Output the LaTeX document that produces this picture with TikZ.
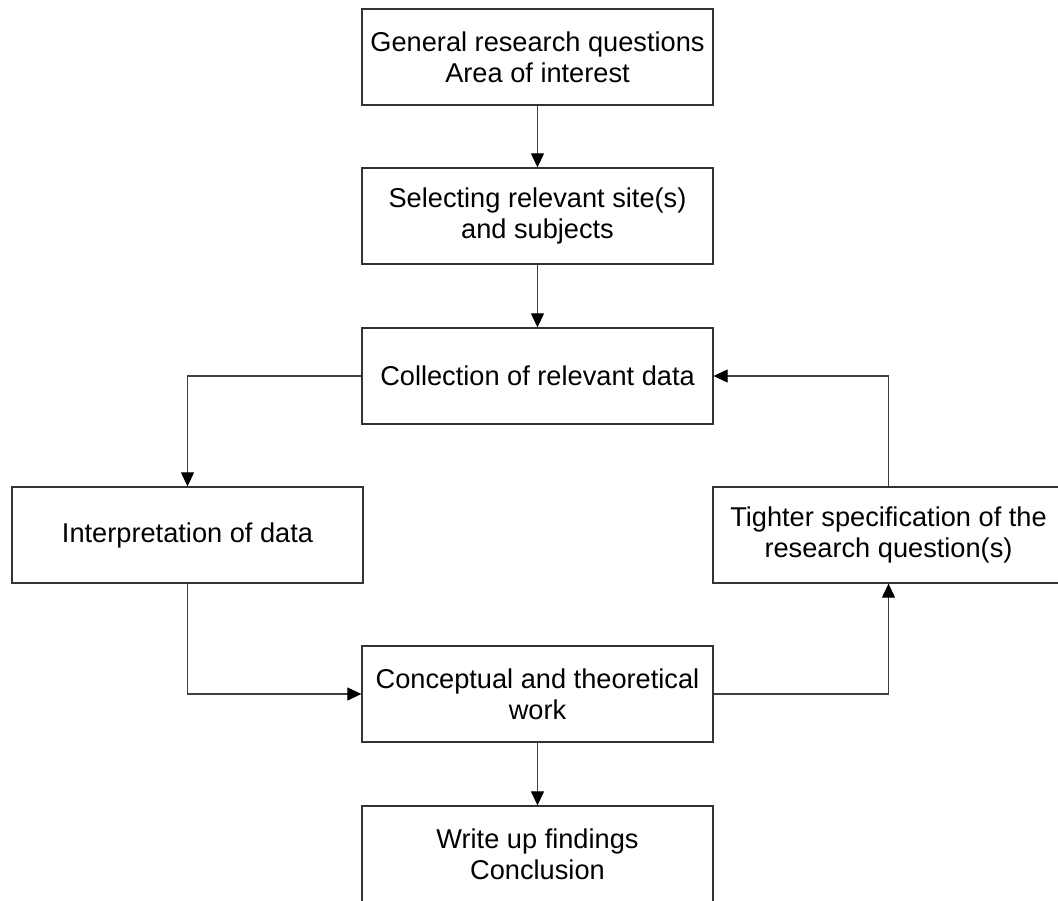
\documentclass[tikz,border=0pt]{standalone}
\usepackage{fontspec}
\setmainfont{Liberation Sans}
\usetikzlibrary{arrows.meta}
\begin{document}
\begin{tikzpicture}[x=1pt,y=-1pt,
  stagebox/.style={draw=black!80, line width=1.3pt, fill=white,
    minimum width=351pt, minimum height=96pt, inner sep=0pt,
    align=center, font=\fontsize{27.2}{31}\selectfont},
  flow/.style={draw=black!75, line width=1.1pt,
    -{Triangle[length=14pt,width=13pt,color=black]}}]
  \useasboundingbox (0,0) rectangle (1058,900);
  \clip (0,0) rectangle (1058,900);
  \fill[white] (0,0) rectangle (1058,900);

  % stages of the research process
  \node[stagebox] (general)  at (537.5,57)  {General research questions\\Area of interest};
  \node[stagebox] (select)   at (537.5,216) {Selecting relevant site(s)\\and subjects};
  \node[stagebox] (collect)  at (537.5,376) {Collection of relevant data};
  \node[stagebox] (interp)   at (187.5,535) {Interpretation of data};
  \node[stagebox] (tighter)  at (888.5,535) {Tighter specification of the\\research question(s)};
  \node[stagebox] (concept)  at (537.5,694) {Conceptual and theoretical\\work};
  \node[stagebox] (writeup)  at (537.5,854) {Write up findings\\Conclusion};

  % connectors
  \draw[flow] (general) -- (select);
  \draw[flow] (select) -- (collect);
  \draw[flow] (collect.west) -| (interp.north);
  \draw[flow] (interp.south) |- (concept.west);
  \draw[flow] (concept.east) -| (tighter.south);
  \draw[flow] (tighter.north) |- (collect.east);
  \draw[flow] (concept) -- (writeup);
\end{tikzpicture}
\end{document}
